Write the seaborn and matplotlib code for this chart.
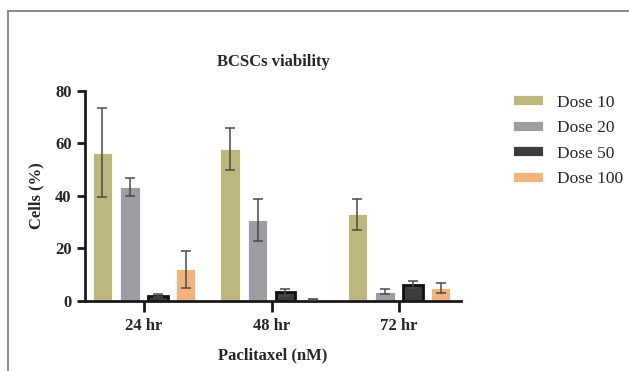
import pandas as pd
import numpy as np
import matplotlib
matplotlib.use("Agg")
import matplotlib.pyplot as plt
from matplotlib.lines import Line2D
import seaborn as sns

# values
times = ["24 hr", "48 hr", "72 hr"]
doses = ["Dose 10", "Dose 20", "Dose 50", "Dose 100"]
dose10 = [56.5, 57.8, 33.0]
dose20 = [43.3, 31.0, 3.5]
dose50 = [2.0, 3.2, 6.2]
dose100 = [12.0, 0.5, 5.0]
err10 = [17.0, 8.0, 6.0]
err20 = [3.5, 8.0, 0.9]
err50 = [0.5, 1.5, 1.3]
err100 = [7.0, 0.3, 1.9]

colors = ["#bcb77d", "#9d9ea4", "#3c3c3c", "#f1b47c"]

rows = []
for d, vals in zip(doses, [dose10, dose20, dose50, dose100]):
    for t, v in zip(times, vals):
        rows.append({"time": t, "dose": d, "cells": v})
df = pd.DataFrame(rows)
errs = [err10, err20, err50, err100]

sns.set_style("ticks")
plt.rcParams["font.family"] = ["Liberation Serif", "DejaVu Serif"]

fig = plt.figure(figsize=(6.29, 3.71), dpi=100)
ax = fig.add_axes([0.135, 0.189, 0.598, 0.566])

sns.barplot(data=df, x="time", y="cells", hue="dose", order=times, hue_order=doses,
            palette=colors, saturation=1, width=0.87, gap=0.3, errorbar=None, ax=ax,
            edgecolor="white", linewidth=0.6)

# error bars on top of the bars seaborn drew
for cont, e, d in zip(ax.containers, errs, doses):
    xs = [b.get_x() + b.get_width() / 2 for b in cont]
    ys = [b.get_height() for b in cont]
    ax.errorbar(xs, ys, yerr=e, fmt="none", ecolor="#4a4a4a", elinewidth=1.1,
                capsize=3.3, capthick=1.1, zorder=5)
    if d == "Dose 50":
        for b in cont:
            b.set_edgecolor("#111111")
            b.set_linewidth(2)

ax.set_ylim(0, 80)
ax.set_xlim(-0.463, 2.486)
ax.set_yticks([0, 20, 40, 60, 80])
for s in ["top", "right"]:
    ax.spines[s].set_visible(False)
for s in ["left", "bottom"]:
    ax.spines[s].set_linewidth(2)
    ax.spines[s].set_color("#1a1a1a")
ax.tick_params(axis="both", width=2, length=6, color="#1a1a1a", labelsize=12)
for lab in ax.get_xticklabels() + ax.get_yticklabels():
    lab.set_fontweight("bold")
ax.tick_params(axis="x", length=8, pad=4)

ax.set_title("BCSCs viability", fontsize=12, fontweight="bold", pad=18)
ax.set_ylabel("Cells (%)", fontsize=12, fontweight="bold", labelpad=8)
ax.set_xlabel("Paclitaxel (nM)", fontsize=12, fontweight="bold", labelpad=10)

ax.legend(loc="upper left", bbox_to_anchor=(0.805, 0.764), bbox_transform=fig.transFigure,
          frameon=False, fontsize=12.5, handlelength=1.7, handleheight=0.5,
          labelspacing=0.55, handletextpad=0.8, borderaxespad=0)

# thin grey frame around the figure (top and left only visible)
fig.add_artist(Line2D([8 / 629, 1.0], [1 - 11 / 371, 1 - 11 / 371], color="#777777", lw=1.2,
                      transform=fig.transFigure))
fig.add_artist(Line2D([8 / 629, 8 / 629], [0.0, 1 - 11 / 371], color="#777777", lw=1.2,
                      transform=fig.transFigure))

fig.savefig("out.png", dpi=100)
